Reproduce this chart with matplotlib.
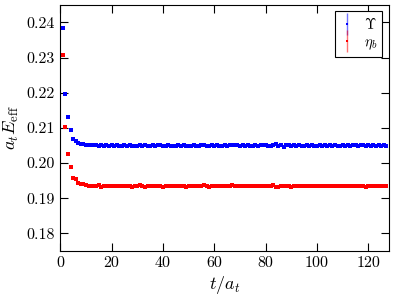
import matplotlib
matplotlib.use("Agg")
import matplotlib.pyplot as plt
from matplotlib.container import ErrorbarContainer
from matplotlib.legend_handler import HandlerErrorbar

plt.rcParams["font.family"] = "serif"
plt.rcParams["font.serif"] = ["cmr10", "DejaVu Serif"]
plt.rcParams["mathtext.fontset"] = "cm"
plt.rcParams["axes.formatter.use_mathtext"] = True

# ---- data: effective masses vs t/a_t ----------------------------------------
t = list(range(1, 128))

upsilon = [
    0.2384, 0.2197, 0.2130, 0.2095, 0.2068, 0.2064, 0.2056, 0.2054, 0.2055, 0.2052,
    0.2051, 0.2050, 0.2051, 0.2050, 0.2049, 0.2051, 0.2048, 0.2050, 0.2049, 0.2050,
    0.2049, 0.2050, 0.2048, 0.2049, 0.2051, 0.2049, 0.2050, 0.2047, 0.2049, 0.2048,
    0.2050, 0.2049, 0.2051, 0.2049, 0.2048, 0.2050, 0.2049, 0.2051, 0.2050, 0.2048,
    0.2049, 0.2050, 0.2047, 0.2049, 0.2048, 0.2050, 0.2049, 0.2051, 0.2049, 0.2047,
    0.2049, 0.2050, 0.2048, 0.2049, 0.2050, 0.2052, 0.2049, 0.2048, 0.2050, 0.2049,
    0.2050, 0.2049, 0.2048, 0.2050, 0.2049, 0.2051, 0.2050, 0.2052, 0.2050, 0.2049,
    0.2050, 0.2049, 0.2050, 0.2048, 0.2049, 0.2050, 0.2049, 0.2051, 0.2050, 0.2052,
    0.2049, 0.2047, 0.2050, 0.2053, 0.2048, 0.2051, 0.2046, 0.2050, 0.2052, 0.2048,
    0.2050, 0.2049, 0.2051, 0.2049, 0.2048, 0.2050, 0.2049, 0.2050, 0.2048, 0.2049,
    0.2050, 0.2049, 0.2051, 0.2048, 0.2050, 0.2049, 0.2050, 0.2048, 0.2049, 0.2051,
    0.2049, 0.2050, 0.2048, 0.2050, 0.2052, 0.2049, 0.2050, 0.2051, 0.2048, 0.2050,
    0.2049, 0.2051, 0.2048, 0.2050, 0.2047, 0.2051, 0.2049,
]

eta_b = [
    0.2306, 0.2101, 0.2027, 0.1988, 0.1958, 0.1955, 0.1944, 0.1940, 0.1941, 0.1937,
    0.1936, 0.1936, 0.1935, 0.1936, 0.1937, 0.1933, 0.1935, 0.1936, 0.1935, 0.1936,
    0.1935, 0.1936, 0.1934, 0.1935, 0.1936, 0.1934, 0.1935, 0.1933, 0.1935, 0.1934,
    0.1937, 0.1935, 0.1933, 0.1935, 0.1936, 0.1935, 0.1934, 0.1936, 0.1935, 0.1933,
    0.1935, 0.1936, 0.1934, 0.1935, 0.1935, 0.1934, 0.1936, 0.1935, 0.1933, 0.1935,
    0.1934, 0.1935, 0.1936, 0.1934, 0.1935, 0.1937, 0.1935, 0.1933, 0.1935, 0.1934,
    0.1935, 0.1934, 0.1935, 0.1936, 0.1935, 0.1934, 0.1937, 0.1935, 0.1934, 0.1935,
    0.1934, 0.1935, 0.1936, 0.1934, 0.1935, 0.1934, 0.1935, 0.1936, 0.1934, 0.1935,
    0.1936, 0.1935, 0.1937, 0.1933, 0.1932, 0.1935, 0.1936, 0.1934, 0.1936, 0.1933,
    0.1935, 0.1934, 0.1935, 0.1936, 0.1934, 0.1935, 0.1934, 0.1936, 0.1935, 0.1934,
    0.1935, 0.1936, 0.1934, 0.1935, 0.1934, 0.1935, 0.1936, 0.1934, 0.1935, 0.1934,
    0.1936, 0.1935, 0.1934, 0.1935, 0.1936, 0.1934, 0.1935, 0.1935, 0.1933, 0.1935,
    0.1934, 0.1936, 0.1935, 0.1934, 0.1935, 0.1935, 0.1934,
]

err = 0.0001  # errors are below a pixel in the reference

x_ticks = [0, 20, 40, 60, 80, 100, 120]
y_ticks = [0.18, 0.19, 0.20, 0.21, 0.22, 0.23, 0.24]

# ---- plot -------------------------------------------------------------------
fig = plt.figure(figsize=(3.94, 2.98), dpi=100)
ax = fig.add_axes([0.153, 0.158, 0.834, 0.826])

for y, c, lab in [(upsilon, "blue", r"$\Upsilon$"), (eta_b, "red", r"$\eta_b$")]:
    ax.errorbar(t, y, yerr=err, fmt="s", color=c, ms=2.4, mew=0,
                ecolor=(c, 0.55), elinewidth=1.0, capsize=1.5, capthick=1.0,
                label=lab)

ax.set_xlim(0, 128)
ax.set_ylim(0.175, 0.245)
ax.set_xticks(x_ticks)
ax.set_yticks(y_ticks)
ax.set_xticklabels([str(v) for v in x_ticks])
ax.set_yticklabels([f"{v:.2f}" for v in y_ticks])
ax.tick_params(direction="in", length=5.5, width=0.8, top=True, right=True,
               labelsize=11.5, pad=4)
for s in ax.spines.values():
    s.set_linewidth(0.8)

ax.set_xlabel(r"$t/a_t$", fontsize=13, labelpad=3)
ax.set_ylabel(r"$a_t E_{\rm eff}$", fontsize=13, labelpad=4)

leg = ax.legend(loc="upper right", fontsize=10.5, fancybox=False,
                edgecolor="black", framealpha=1, handlelength=0.9,
                handletextpad=0.7, borderpad=0.35, labelspacing=0.25,
                borderaxespad=0.45, markerscale=0.8,
                handler_map={ErrorbarContainer: HandlerErrorbar(xerr_size=0.3, yerr_size=0.75)})
leg.get_frame().set_linewidth(0.8)

fig.savefig("out.png", dpi=100)
